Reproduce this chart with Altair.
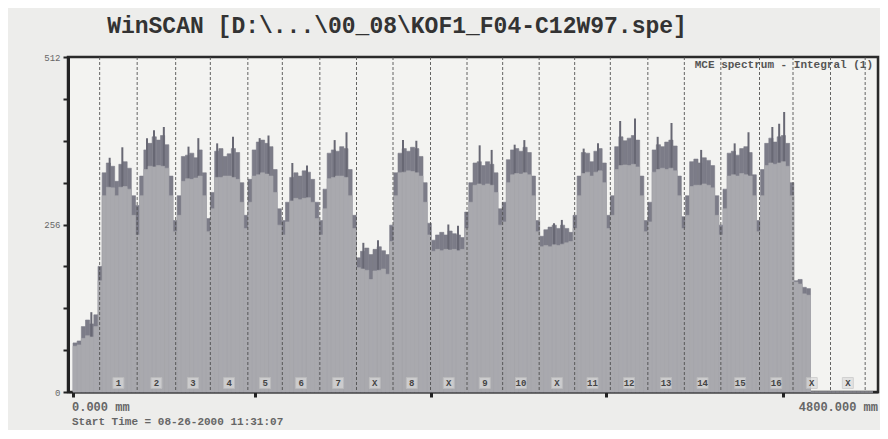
import altair as alt
import pandas as pd

# ---------------- data ----------------
BIN_MM = 25  # channel width in mm (0 .. 4800 mm)

light_counts = [
    70, 72, 82, 86, 84, 100, 170,
    300, 313, 312, 300, 313, 314, 310, 270, 240,
    300, 340, 345, 344, 346, 345, 342, 300, 245,
    270, 322, 326, 325, 327, 330, 300, 245,
    280, 328, 328, 330, 330, 328, 325, 290, 250,
    290, 330, 332, 335, 333, 330, 305, 255, 240,
    260, 292, 296, 294, 296, 297, 290, 265, 240,
    280, 326, 328, 330, 330, 328, 300, 250,
    190, 188, 186, 172, 185, 186, 188, 180, 230,
    300, 335, 336, 338, 337, 335, 330, 290, 240,
    215, 218, 216, 218, 217, 218, 216, 218, 250,
    290, 316, 318, 316, 318, 316, 305, 255, 260,
    320, 332, 334, 333, 335, 332, 300, 245,
    222, 224, 222, 225, 224, 226, 228, 230, 250,
    300, 334, 336, 330, 336, 338, 320, 250,
    270, 340, 346, 347, 346, 348, 344, 300, 245,
    260, 336, 340, 342, 340, 342, 338, 300, 250,
    270, 314, 316, 316, 318, 316, 312, 270, 240,
    280, 330, 332, 330, 334, 332, 330, 300, 245,
    300, 346, 350, 348, 350, 352, 345, 300,
    168, 165, 150, 148,
    0, 0, 0, 0, 0, 0, 0, 0, 0, 0, 0, 0, 0, 0, 0,
]

dark_counts = [
    75, 78, 100, 110, 104, 118, 192,
    335, 350, 345, 322, 348, 352, 342, 300, 285,
    330, 370, 380, 390, 385, 392, 378, 330, 262,
    300, 360, 362, 365, 358, 370, 335, 265,
    305, 368, 372, 360, 364, 372, 366, 320, 270,
    325, 370, 382, 385, 380, 375, 340, 280, 262,
    290, 328, 335, 330, 338, 336, 325, 290, 262,
    310, 365, 370, 368, 375, 372, 340, 270,
    205, 215, 220, 210, 218, 222, 216, 210, 255,
    335, 365, 372, 368, 374, 372, 360, 320, 258,
    232, 240, 244, 240, 246, 242, 240, 236, 275,
    320, 350, 352, 346, 352, 348, 335, 280, 290,
    355, 370, 372, 368, 374, 366, 330, 262,
    238, 248, 252, 255, 250, 255, 250, 244, 270,
    330, 366, 365, 352, 368, 372, 350, 270,
    300, 375, 390, 384, 388, 392, 385, 330, 262,
    290, 370, 378, 375, 382, 385, 376, 330, 268,
    300, 352, 356, 350, 358, 354, 346, 300, 255,
    310, 365, 368, 362, 372, 375, 366, 332, 262,
    340, 380, 388, 382, 390, 392, 380, 320,
    170, 172, 160, 158,
    0, 0, 0, 0, 0, 0, 0, 0, 0, 0, 0, 0, 0, 0, 0,
]

spike_mm = [110, 220, 296, 444, 486, 545, 693, 752, 865, 960, 1120, 1173,
            1316, 1404, 1570, 1641, 1742, 1830, 1980, 2060, 2252, 2310,
            2440, 2512, 2650, 2708, 2886, 2933, 3064, 3150, 3283, 3372,
            3508, 3591, 3769, 3970, 4053, 4196, 4237, 4267]
spike_counts = [122, 358, 374, 388, 400, 405, 375, 388, 380, 390, 388, 392,
                350, 346, 385, 397, 228, 232, 385, 384, 256, 254,
                377, 370, 378, 385, 258, 263, 372, 380, 414, 418,
                390, 411, 370, 380, 397, 405, 410, 428]

lane_edges_mm = [160, 385, 616, 824, 1049, 1256, 1481, 1701, 1920, 2145, 2364,
                 2578, 2797, 3010, 3224, 3449, 3668, 3887, 4119, 4320, 4545, 4753]
lane_labels = ["1", "2", "3", "4", "5", "6", "7", "X", "8", "X", "9", "10", "X",
               "11", "12", "13", "14", "15", "16", "X", "X"]

y_ticks = [0, 64, 128, 192, 256, 320, 384, 448, 512]
x_ticks = [0, 1090, 2150, 3200, 4260]

title_text = "WinSCAN [D:\\...\\00_08\\KOF1_F04-C12W97.spe]"
legend_text = "MCE spectrum - Integral (1)"
x_start_text = "0.000 mm"
x_end_text = "4800.000 mm"
start_time_text = "Start Time = 08-26-2000 11:31:07"

# ---------------- tables ----------------
n = len(light_counts)
bins = pd.DataFrame({
    "start": [i * BIN_MM for i in range(n)],
    "end": [(i + 1) * BIN_MM for i in range(n)],
    "light": light_counts,
    "dark": dark_counts,
})
spikes = pd.DataFrame({"mm": spike_mm, "count": spike_counts})
edges = pd.DataFrame({"mm": lane_edges_mm})
lanes = pd.DataFrame({
    "center": [(a + b) / 2 for a, b in zip(lane_edges_mm[:-1], lane_edges_mm[1:])],
    "label": lane_labels,
})

W, H = 810, 335
MONO = "Liberation Mono"
LIGHT = "#a9a9ae"
DARK = "#7c7c88"

xscale = alt.Scale(domain=[0, 4800], nice=False, zero=False)
yscale = alt.Scale(domain=[0, 512], nice=False)

xaxis = alt.Axis(values=x_ticks, labels=False, title=None, grid=False,
                 domainColor="#222", domainWidth=2, tickColor="#222",
                 tickWidth=3, tickSize=5)
yaxis = alt.Axis(values=y_ticks, title=None, grid=False,
                 labelExpr="datum.value % 256 == 0 ? datum.label : ''",
                 labelFont=MONO, labelFontSize=9, labelColor="#666",
                 labelPadding=3, domainColor="#222", domainWidth=3,
                 tickColor="#222", tickWidth=2, tickSize=5)

dark_bars = alt.Chart(bins).mark_rect(color=DARK, stroke=DARK, strokeWidth=0.6).encode(
    x=alt.X("start:Q", scale=xscale, axis=xaxis),
    x2="end:Q",
    y=alt.Y("dark:Q", scale=yscale, axis=yaxis),
    y2=alt.datum(0),
)

spike_bars = alt.Chart(spikes).mark_bar(color="#686874", size=2).encode(
    x=alt.X("mm:Q", scale=xscale),
    y=alt.Y("count:Q", scale=yscale),
    y2=alt.datum(0),
)

light_bars = alt.Chart(bins).mark_rect(color=LIGHT, stroke=LIGHT, strokeWidth=0.6).encode(
    x=alt.X("start:Q", scale=xscale),
    x2="end:Q",
    y=alt.Y("light:Q", scale=yscale),
    y2=alt.datum(0),
)

lane_rules = alt.Chart(edges).mark_rule(
    color="#4a4a4a", strokeWidth=1, strokeDash=[3, 2], opacity=0.85
).encode(x=alt.X("mm:Q", scale=xscale))

label_boxes = alt.Chart(lanes).mark_square(
    size=120, filled=True, color="#dcdcdc", stroke="#c4c4c4", strokeWidth=1
).encode(x=alt.X("center:Q", scale=xscale), y=alt.value(326))

label_text = alt.Chart(lanes).mark_text(
    font=MONO, fontSize=9, fontWeight="bold", color="#444", baseline="middle"
).encode(x=alt.X("center:Q", scale=xscale), y=alt.value(326), text="label:N")

one = pd.DataFrame({"k": [0]})

title = alt.Chart(one).mark_text(
    text=title_text, font=MONO, fontSize=23, fontWeight="bold", color="#333",
    align="center", baseline="middle"
).encode(x=alt.value(329), y=alt.value(-31))

legend = alt.Chart(one).mark_text(
    text=legend_text, font=MONO, fontSize=11, fontWeight="bold", color="#555",
    align="right", baseline="middle"
).encode(x=alt.value(805), y=alt.value(8))

x_start = alt.Chart(one).mark_text(
    text=x_start_text, font=MONO, fontSize=12, fontWeight="bold", color="#666",
    align="left", baseline="middle"
).encode(x=alt.value(4), y=alt.value(350))

x_end = alt.Chart(one).mark_text(
    text=x_end_text, font=MONO, fontSize=12, fontWeight="bold", color="#666",
    align="right", baseline="middle"
).encode(x=alt.value(810), y=alt.value(350))

start_time = alt.Chart(one).mark_text(
    text=start_time_text, font=MONO, fontSize=11, fontWeight="bold", color="#666",
    align="left", baseline="middle"
).encode(x=alt.value(4), y=alt.value(365))

chart = alt.layer(
    dark_bars, spike_bars, light_bars, lane_rules, label_boxes, label_text,
    title, legend, x_start, x_end, start_time
).properties(
    width=W, height=H,
    autosize=alt.AutoSizeParams(type="none"),
    padding={"left": 60, "top": 49, "right": 2, "bottom": 38},
    background="#ededeb",
).configure_view(
    fill="#f3f3f1", stroke="#2a2a2a", strokeWidth=2.5
)

chart.save("out.html", embed_options={"renderer": "svg", "actions": False})
